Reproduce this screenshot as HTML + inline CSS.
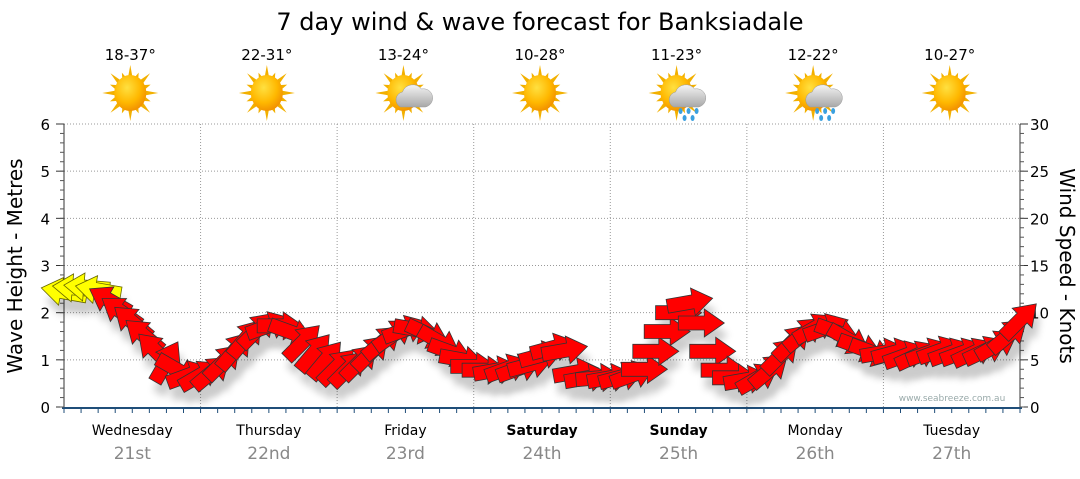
<!DOCTYPE html>
<html><head><meta charset="utf-8">
<style>
body{margin:0;background:#fff;width:1080px;height:475px;overflow:hidden;font-family:"DejaVu Sans","Liberation Sans",sans-serif}
svg text{font-family:"DejaVu Sans","Liberation Sans",sans-serif}
</style></head>
<body>
<svg id="c" width="1080" height="475" viewBox="0 0 1080 475">
<defs>
<radialGradient id="sunG" cx="0.4" cy="0.35" r="0.7"><stop offset="0" stop-color="#ffe040"/><stop offset="0.6" stop-color="#ffb800"/><stop offset="1" stop-color="#f08c00"/></radialGradient>
<linearGradient id="cloudG" x1="0" y1="0" x2="0" y2="1"><stop offset="0" stop-color="#f4f4f4"/><stop offset="1" stop-color="#a8a8a8"/></linearGradient>
<filter id="sh" x="-30%" y="-30%" width="160%" height="180%"><feGaussianBlur stdDeviation="4"/></filter>
</defs>
<text x="540" y="30" text-anchor="middle" font-size="24" fill="#000">7 day wind &amp; wave forecast for Banksiadale</text>
<g id="grid"></g>
<g id="axes"></g>
<g id="icons"></g>
<g id="shadows" opacity="0.2"></g>
<g id="arrows"></g>
<text x="952" y="401" text-anchor="middle" font-size="9" fill="#9aa">www.seabreeze.com.au</text>
<text transform="translate(22,266) rotate(-90)" text-anchor="middle" font-size="20" fill="#000">Wave Height - Metres</text>
<text transform="translate(1060,266) rotate(90)" text-anchor="middle" font-size="20" fill="#000">Wind Speed - Knots</text>
</svg>
<script>
const days=["Wednesday","Thursday","Friday","Saturday","Sunday","Monday","Tuesday"];
const dates=["21st","22nd","23rd","24th","25th","26th","27th"];
const boldDays=[false,false,false,true,true,false,false];
const temps=["18-37°","22-31°","13-24°","10-28°","11-23°","12-22°","10-27°"];
const weather=["sun","sun","cloud","sun","rain","rain","sun"];
const leftTicks=[0,1,2,3,4,5,6];
const rightTicks=[0,5,10,15,20,25,30];
// wind every 2 hours (knots) and arrow pointing angle (deg, 0=right, ccw positive)
const windSpeed=[12.2,12.6,12.7,12.4,11.3,10.1,9.0,7.6,6.0,4.8,3.9,3.4,3.4,3.7,4.8,6.0,7.3,8.2,8.6,8.6,7.9,6.9,5.8,5.0,4.3,4.1,4.8,5.8,6.9,7.7,8.2,8.2,7.7,6.9,5.8,5.0,4.3,3.9,3.9,4.1,4.1,4.5,5.5,6.3,6.0,3.7,3.1,3.1,3.1,3.2,3.4,4.0,5.9,8.0,10.0,11.1,8.9,5.9,3.9,3.1,2.9,3.1,3.9,5.5,6.9,7.8,8.4,8.4,7.9,7.1,6.3,5.8,5.8,5.8,5.5,5.5,5.8,6.0,5.8,5.8,5.8,6.0,6.6,7.6,9.2];
const windDir=[170,175,175,170,150,145,140,140,135,60,-30,20,30,40,45,50,50,45,20,0,-20,45,50,50,45,45,45,45,40,35,20,-10,-25,-30,-20,-10,0,0,10,20,20,15,15,15,10,10,10,5,10,15,20,0,0,0,0,10,0,0,0,0,10,30,40,45,45,40,30,20,-20,-30,-20,-20,10,15,20,25,20,20,20,20,25,25,30,40,45];
const X0=64,X1=1020,Y0=407,Y1=124,DAY=(X1-X0)/7;
const xH=h=>X0+h/24*DAY;
const yM=m=>Y0-m/6*(Y0-Y1);
const yK=k=>Y0-k/30*(Y0-Y1);
const NS="http://www.w3.org/2000/svg";
function mk(p,t,a){const e=document.createElementNS(NS,t);for(const k in a)e.setAttribute(k,a[k]);p.appendChild(e);return e;}
const G=id=>document.getElementById(id);
leftTicks.forEach(t=>{if(t>0){const l=mk(G('grid'),'line',{x1:X0,x2:X1,y1:yM(t),y2:yM(t),stroke:'#999','stroke-dasharray':'1,2'});

}});
for(let d=1;d<7;d++){const l=mk(G('grid'),'line',{x1:X0+d*DAY,x2:X0+d*DAY,y1:Y1,y2:Y0,stroke:'#999','stroke-dasharray':'1,2'});

}
const ax=G('axes');
mk(ax,'line',{x1:X0,x2:X0,y1:Y1,y2:Y0,stroke:'#333'});
mk(ax,'line',{x1:X1,x2:X1,y1:Y1,y2:Y0,stroke:'#333'});
const bl=mk(ax,'line',{x1:X0-2,x2:X1+2,y1:Y0+1,y2:Y0+1,stroke:'#1f4e79','stroke-width':2});


leftTicks.forEach(t=>{mk(ax,'line',{x1:X0-8,x2:X0,y1:yM(t),y2:yM(t),stroke:'#333'});
const tx=mk(ax,'text',{x:X0-14,y:yM(t)+6,'text-anchor':'end','font-size':15,fill:'#000'});tx.textContent=t;

});
for(let m=0;m<6;m+=0.2){mk(ax,'line',{x1:X0-4,x2:X0,y1:yM(m),y2:yM(m),stroke:'#555'});}
rightTicks.forEach(t=>{mk(ax,'line',{x1:X1,x2:X1+8,y1:yK(t),y2:yK(t),stroke:'#333'});
const tx=mk(ax,'text',{x:X1+10,y:yK(t)+6,'font-size':15,fill:'#000'});tx.textContent=t;

});
for(let k=0;k<30;k+=1){mk(ax,'line',{x1:X1,x2:X1+4,y1:yK(k),y2:yK(k),stroke:'#555'});}
for(let h=0;h<=168;h+=3){mk(ax,'line',{x1:xH(h),x2:xH(h),y1:Y0+1,y2:Y0+6,stroke:'#1f4e79'});}
days.forEach((d,i)=>{const cx=X0+(i+0.5)*DAY;
const a=mk(ax,'text',{x:cx,y:435,'text-anchor':'middle','font-size':14,fill:'#000','font-weight':boldDays[i]?'bold':'normal'});a.textContent=d;


const b=mk(ax,'text',{x:cx,y:459,'text-anchor':'middle','font-size':17,fill:'#888'});b.textContent=dates[i];


const t=mk(ax,'text',{x:cx-2,y:60,'text-anchor':'middle','font-size':15,fill:'#000'});t.textContent=temps[i];


});
weather.forEach((w,i)=>{const cx=X0+(i+0.5)*DAY-2,cy=93;
const g=mk(G('icons'),'g',{});


for(let r=0;r<16;r++){const an=r*Math.PI/8,L=r%2?22:28,s=0.16;
mk(g,'polygon',{points:`${cx+Math.cos(an-s)*15},${cy+Math.sin(an-s)*15} ${cx+Math.cos(an)*L},${cy+Math.sin(an)*L} ${cx+Math.cos(an+s)*15},${cy+Math.sin(an+s)*15}`,fill:'#f2b000'});}
mk(g,'ellipse',{cx:cx,cy:cy,rx:16,ry:18,fill:'url(#sunG)'});
if(w!=='sun'){mk(g,'path',{d:`M${cx-3},${cy+14} a8,8 0 0 1 2,-15 a11,11 0 0 1 19,-3 a8,8 0 0 1 4,18 z`,fill:'url(#cloudG)',stroke:'#999','stroke-width':0.5});}
if(w==='rain'){[[4,18],[12,18],[20,18],[8,25],[16,25]].forEach(p=>mk(g,'ellipse',{cx:cx+p[0],cy:cy+p[1],rx:2,ry:3,fill:'#3aa0e0'}));}
});
function arrowPts(cx,cy,ang){const a=-ang*Math.PI/180,c=Math.cos(a),s=Math.sin(a);
const pts=[[-23,-7],[3,-7],[3,-14],[23,0],[3,14],[3,7],[-23,7]];
return pts.map(p=>`${(cx+p[0]*c-p[1]*s).toFixed(1)},${(cy+p[0]*s+p[1]*c).toFixed(1)}`).join(' ');}
windSpeed.forEach((k,i)=>{const x=xH(i*2),y=yK(k);
mk(G('shadows'),'polygon',{points:arrowPts(x+4,y+12,windDir[i]),fill:'#000',filter:'url(#sh)'});
const p=mk(G('arrows'),'polygon',{points:arrowPts(x,y,windDir[i]),fill:k>11.5?'#ffff00':'#ff0000',stroke:k>11.5?'#666600':'#333','stroke-width':0.8});


});
</script>
</body></html>
